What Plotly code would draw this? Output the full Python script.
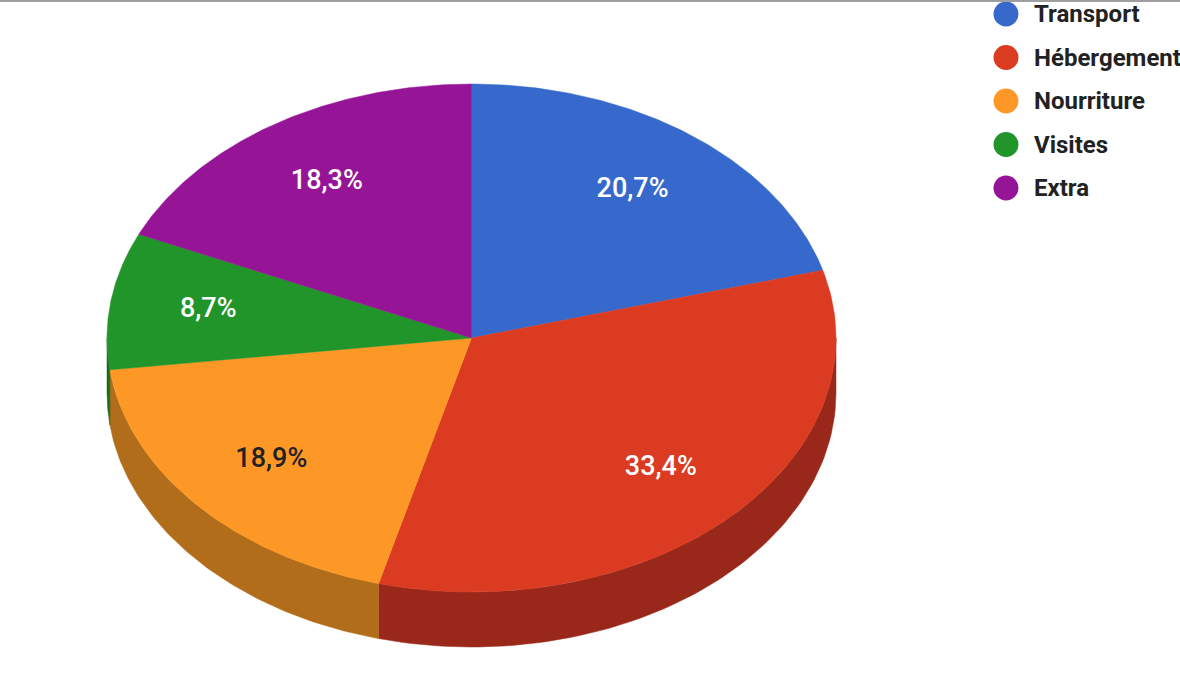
"""Budget split shown as a tilted 3D-style pie, drawn with filled scatter traces."""

import numpy as np

import plotly.graph_objects as go

# Data
categories = ["Transport", "Hébergement", "Nourriture", "Visites", "Extra"]
shares = [20.7, 33.4, 18.9, 8.7, 18.3]
share_labels = ["20,7%", "33,4%", "18,9%", "8,7%", "18,3%"]

top_colors = ["#3669CB", "#DA3B21", "#FD9827", "#21942A", "#961597"]
side_colors = ["#234A94", "#99281A", "#B26D1A", "#176B1E", "#6A0F6B"]
label_colors = ["white", "white", "#222222", "white", "white"]

# Geometry of the tilted pie, in page pixels
W, H = 1180, 674
CX, CY = 471.5, 338
RX, RY = 364.5, 254
DEPTH = 55
LABEL_R = 0.73


def rim(deg, drop=0.0):
    """Point on the ellipse rim, angle clockwise from 12 o'clock."""
    t = np.radians(deg)
    return CX + RX * np.sin(t), CY - RY * np.cos(t) + drop


total = sum(shares)
edges = np.concatenate([[0], np.cumsum(shares) / total * 360])

fig = go.Figure()

# Side walls first (only the front half of the rim is visible)
for i, cat in enumerate(categories):
    a, b = max(edges[i], 90), min(edges[i + 1], 270)
    if a >= b:
        continue
    ts = np.linspace(a, b, 80)
    x, y = rim(ts)
    xb, yb = rim(ts[::-1], DEPTH)
    fig.add_trace(
        go.Scatter(
            x=np.concatenate([x, xb, x[:1]]),
            y=np.concatenate([y, yb, y[:1]]),
            fill="toself",
            fillcolor=side_colors[i],
            line=dict(color=side_colors[i], width=0.5),
            mode="lines",
            hoverinfo="skip",
            showlegend=False,
        )
    )

# Top faces
for i, cat in enumerate(categories):
    ts = np.linspace(edges[i], edges[i + 1], 120)
    x, y = rim(ts)
    fig.add_trace(
        go.Scatter(
            x=np.concatenate([[CX], x, [CX]]),
            y=np.concatenate([[CY], y, [CY]]),
            fill="toself",
            fillcolor=top_colors[i],
            line=dict(color=top_colors[i], width=0.5),
            mode="lines",
            hoverinfo="skip",
            showlegend=False,
        )
    )

# Percent labels at the middle of each slice
mids = (edges[:-1] + edges[1:]) / 2
lx = CX + LABEL_R * RX * np.sin(np.radians(mids))
ly = CY - LABEL_R * RY * np.cos(np.radians(mids))
fig.add_trace(
    go.Scatter(
        x=lx,
        y=ly,
        text=share_labels,
        mode="text",
        textfont=dict(family="Roboto", size=27, color=label_colors, weight=500),
        hoverinfo="skip",
        showlegend=False,
    )
)

# Legend on the right: round swatches + bold names
leg_y = 14 + 43.5 * np.arange(len(categories))
fig.add_trace(
    go.Scatter(
        x=[1006] * len(categories),
        y=leg_y,
        mode="markers",
        marker=dict(size=25, color=top_colors, line_width=0),
        hoverinfo="skip",
        showlegend=False,
    )
)
for cat, yy in zip(categories, leg_y):
    fig.add_annotation(
        x=1032,
        y=yy,
        text=cat,
        showarrow=False,
        xanchor="left",
        yanchor="middle",
        font=dict(family="Roboto", size=24, color="#222222", weight="bold"),
    )

fig.update_layout(
    width=W,
    height=H,
    margin=dict(l=0, r=0, t=0, b=0),
    paper_bgcolor="white",
    plot_bgcolor="white",
    xaxis=dict(range=[0, W], visible=False, fixedrange=True),
    yaxis=dict(range=[H, 0], visible=False, fixedrange=True),
    shapes=[
        dict(
            type="line",
            xref="paper",
            yref="y",
            x0=0,
            x1=1,
            y0=1,
            y1=1,
            line=dict(color="#9E9E9E", width=2),
        )
    ],
)

# drop the browser's default 8px body margin so the chart sits flush
fig.write_html(
    "out.html",
    config={"displayModeBar": False},
    post_script="document.body.style.margin = '0';",
)
